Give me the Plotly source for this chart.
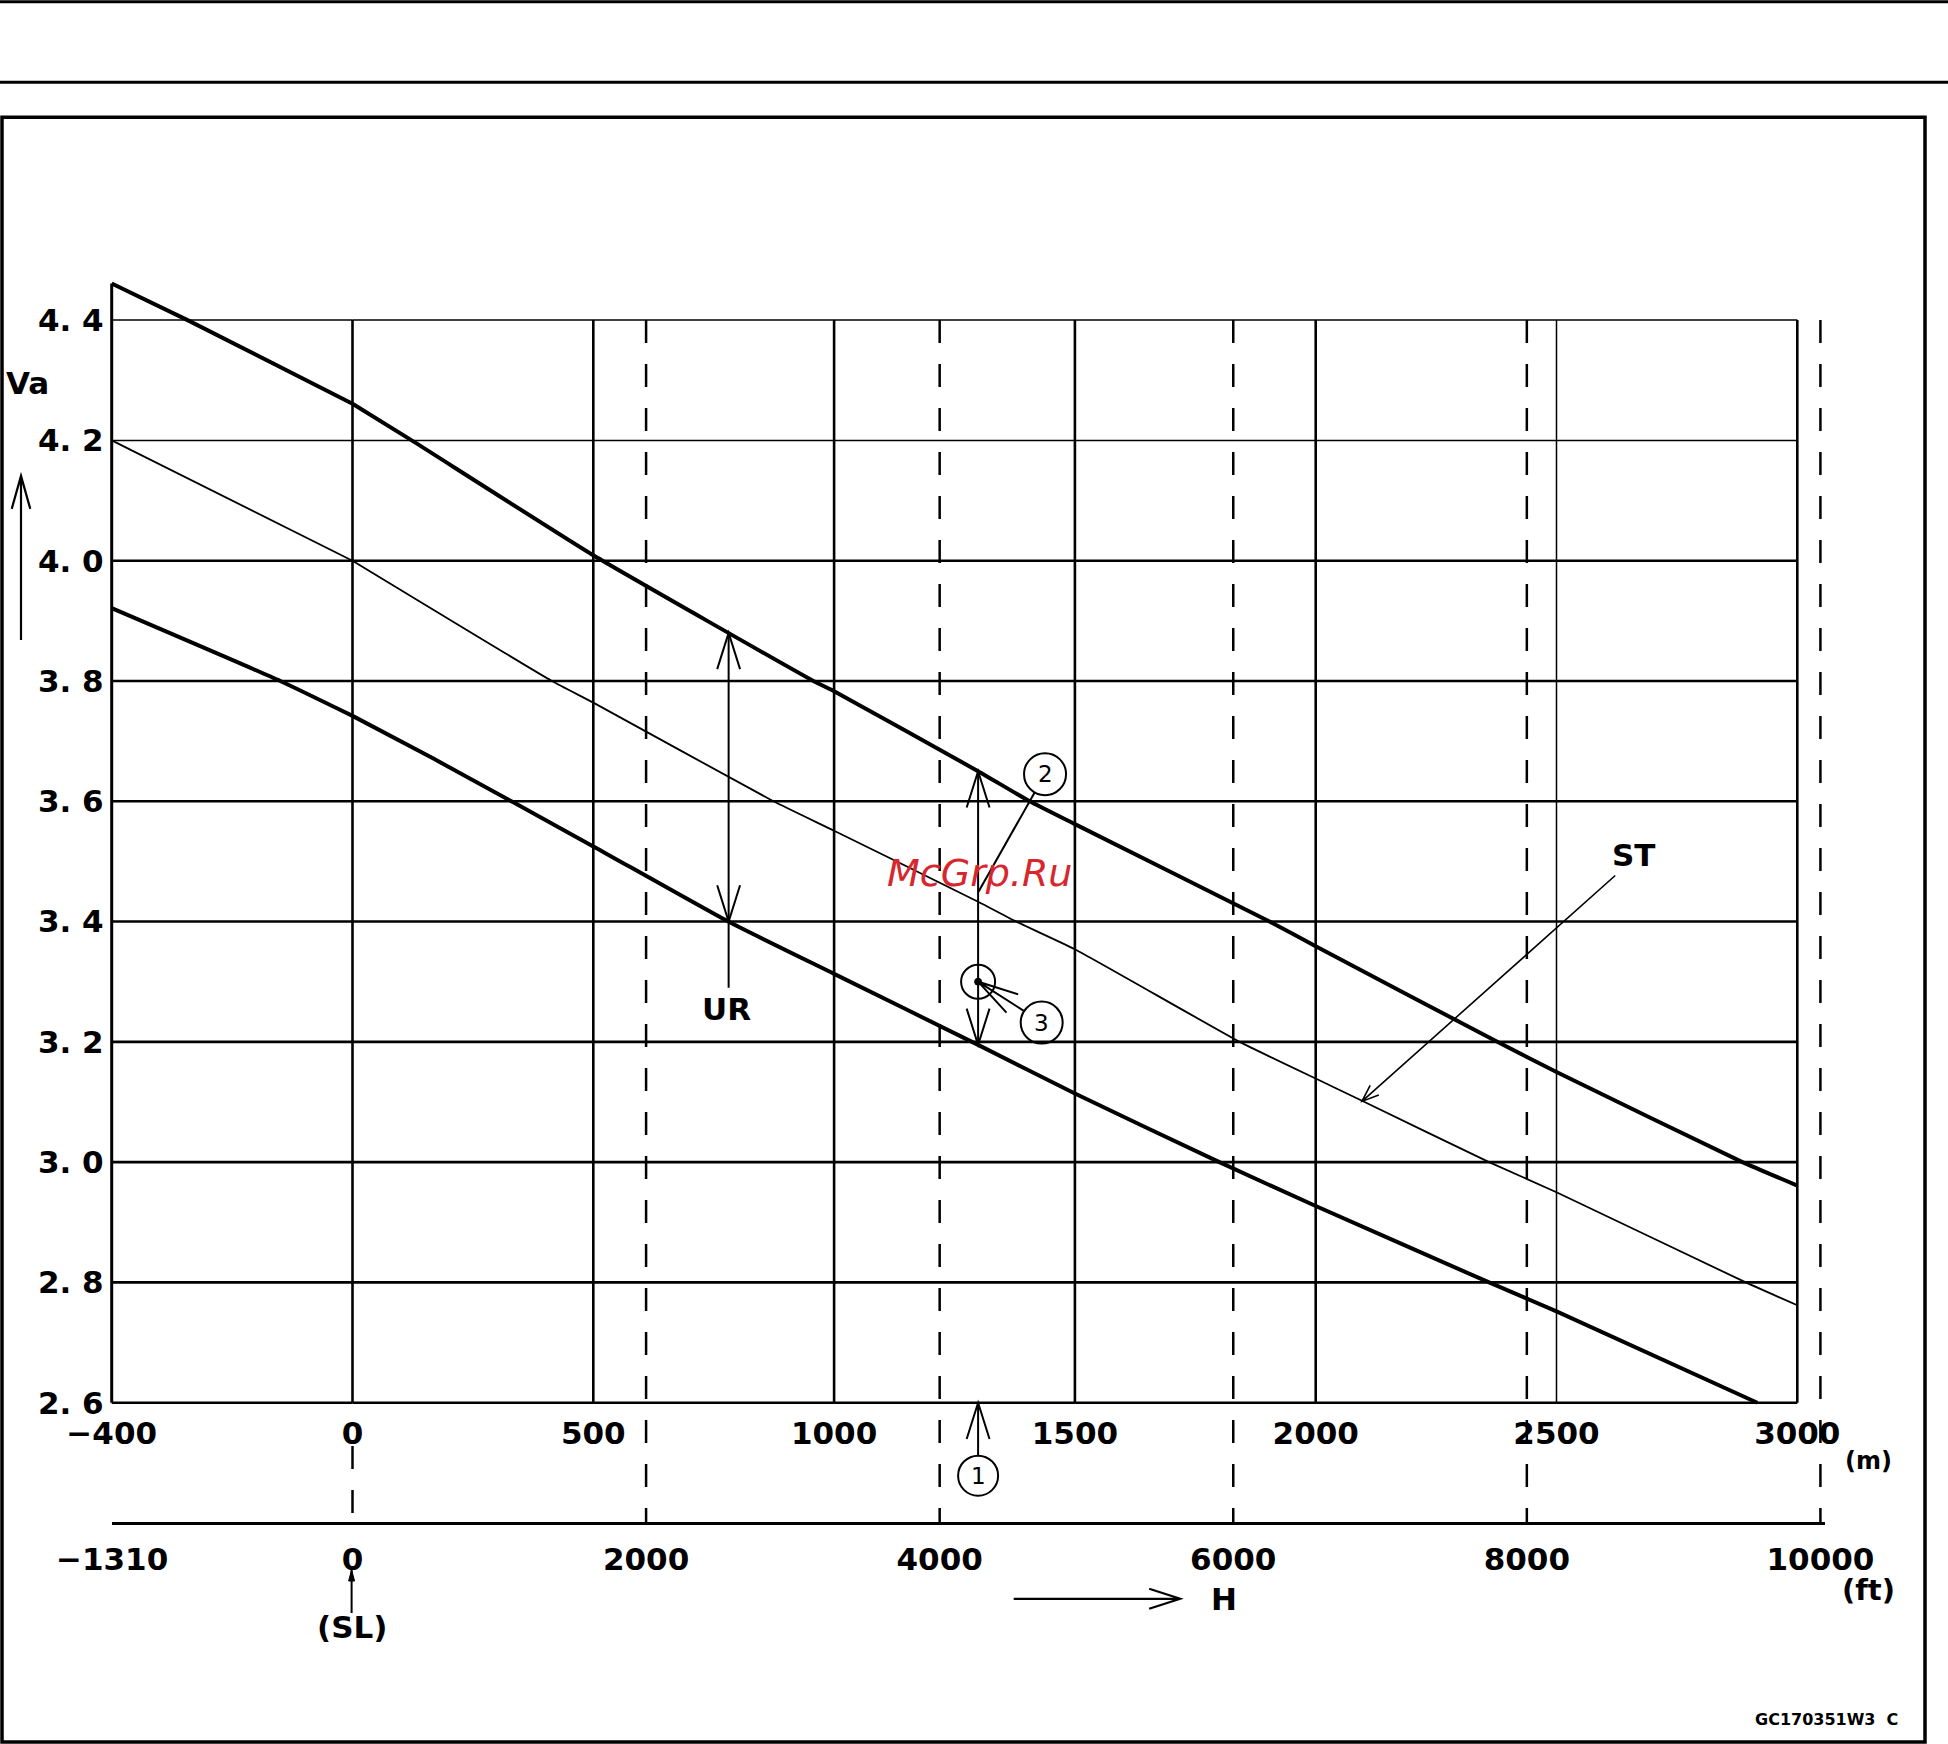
import math
import plotly.graph_objects as go

# ---------------- data ----------------
M_TICKS = [0, 500, 1000, 1500, 2000, 2500, 3000]
M_TICK_TEXT = ["0", "500", "1000", "1500", "2000", "2500", "3000"]
M_LEFT_TICK = [-400]
M_LEFT_TEXT = ["\u2212400"]
FT_TICKS = [0, 2000, 4000, 6000, 8000, 10000]
FT_TICK_TEXT = ["0", "2000", "4000", "6000", "8000", "10000"]
FT_LEFT_TICK = [-1310]
FT_LEFT_TEXT = ["\u22121310"]
VA_TICKS = [2.6, 2.8, 3.0, 3.2, 3.4, 3.6, 3.8, 4.0, 4.2, 4.4]
VA_TICK_TEXT = ["2. 6", "2. 8", "3. 0", "3. 2", "3. 4", "3. 6", "3. 8", "4. 0", "4. 2", "4. 4"]

# altitude H (m) vs. Va (V)
UPPER_H = [-400, -274, 0, 123, 500, 957, 1000, 1299, 1406, 1500, 1904, 2000, 2377, 2500, 2886, 3000]
UPPER_VA = [4.461, 4.40, 4.261, 4.20, 4.009, 3.80, 3.783, 3.650, 3.60, 3.562, 3.40, 3.359, 3.20, 3.150, 3.00, 2.961]

ST_H = [-400, 0, 414, 500, 874, 1000, 1299, 1378, 1500, 1842, 2000, 2094, 2360, 2500, 2893, 3000]
ST_VA = [4.20, 4.00, 3.80, 3.764, 3.60, 3.551, 3.433, 3.40, 3.354, 3.20, 3.139, 3.103, 3.00, 2.950, 2.80, 2.762]

LOWER_H = [-400, -120, 0, 168, 500, 780, 1000, 1299, 1500, 1800, 2000, 2360, 2500, 2917]
LOWER_VA = [3.921, 3.80, 3.742, 3.671, 3.525, 3.40, 3.313, 3.195, 3.114, 3.00, 2.927, 2.80, 2.752, 2.60]

# marked points
UR_H, UR_TOP, UR_BOT, UR_TAIL = 781, 3.880, 3.40, 3.29
P_H, P_TOP, P_BOT, P_MEAS = 1299, 3.650, 3.195, 3.30
C2_H, C2_VA = 1438, 3.645
C3_H, C3_VA = 1431, 3.232
ST_TIP_H, ST_TIP_VA = 2096, 3.101

# ---------------- geometry ----------------
W, H = 1948, 1744
FONT = "DejaVu Sans"
X0 = 352.5              # px of H = 0 m
PXM = 240.8 / 500       # px per metre right of 0
PXM_L = 240.8 / 400     # px per metre left of 0 (broken scale)
FT = 0.3048
Y44 = 320.0
PXV = 601.5             # px per volt
Y_LO, Y_HI = 2.595, 4.48
PL, PR = 100.0, 1832.0
PT = Y44 - (Y_HI - 4.4) * PXV
PB = 1523.0
PW, PH = PR - PL, PB - PT


def fx(px):
    return (px - PL) / PW


def fy(py):
    return (PB - py) / PH


def ypx(v):
    return Y44 + (4.4 - v) * PXV


fig = go.Figure()


def add_curve(xs, ys, w):
    left = [(x, y) for x, y in zip(xs, ys) if x <= 0]
    right = [(x, y) for x, y in zip(xs, ys) if x >= 0]
    for pts, xa in ((left, "x"), (right, "x2")):
        fig.add_trace(go.Scatter(x=[p[0] for p in pts], y=[p[1] for p in pts], xaxis=xa, yaxis="y",
                                 mode="lines", line=dict(color="black", width=w, shape="spline", smoothing=0.4),
                                 hoverinfo="skip", showlegend=False))


add_curve(UPPER_H, UPPER_VA, 4)
add_curve(ST_H, ST_VA, 1.8)
add_curve(LOWER_H, LOWER_VA, 4)

# invisible traces so the feet axes get drawn
fig.add_trace(go.Scatter(x=FT_LEFT_TICK, y=[3.0], xaxis="x3", yaxis="y", mode="markers",
                         marker=dict(opacity=0), hoverinfo="skip", showlegend=False))
fig.add_trace(go.Scatter(x=FT_TICKS, y=[3.0] * len(FT_TICKS), xaxis="x4", yaxis="y", mode="markers",
                         marker=dict(opacity=0), hoverinfo="skip", showlegend=False))

shapes = []


def seg(xref, yref, x0, y0, x1, y1, w=2.5, dash=None):
    ln = dict(color="black", width=w)
    if dash:
        ln["dash"] = dash
    shapes.append(dict(type="line", xref=xref, yref=yref, x0=x0, y0=y0, x1=x1, y1=y1, line=ln))


def pix_path(xref, yref, xa, ya, path, w=2, fill=None):
    d = dict(type="path", xref=xref, yref=yref, xsizemode="pixel", ysizemode="pixel",
             xanchor=xa, yanchor=ya, path=path, line=dict(color="black", width=w))
    if fill:
        d["fillcolor"] = fill
    shapes.append(d)


def pix_circle(xref, yref, xa, ya, r, w=2, fill=None, dy=0):
    d = dict(type="circle", xref=xref, yref=yref, xsizemode="pixel", ysizemode="pixel",
             xanchor=xa, yanchor=ya, x0=-r, x1=r, y0=dy - r, y1=dy + r,
             line=dict(color="black", width=w))
    if fill:
        d["fillcolor"] = fill
    shapes.append(d)


def head(angle, length=38, half=17.5):
    pts = []
    for s in (1, -1):
        a = math.radians(angle + 180 + s * half)
        pts.append((length * math.cos(a), length * math.sin(a)))
    return f" M {pts[0][0]:.2f} {pts[0][1]:.2f} L 0 0 L {pts[1][0]:.2f} {pts[1][1]:.2f}"


# grid
for v in VA_TICKS:
    w = 1.5 if v >= 4.2 else 2.6
    seg("x", "y", -400, v, 0, v, w)
    seg("x2", "y", 0, v, 3000, v, w)
seg("x", "y", -400, 2.6, -400, UPPER_VA[0], 3)
for m in M_TICKS:
    w = 1.5 if m == 2500 else 2.6
    seg("x2", "y", m, 2.6, m, 4.4, w)

# feet dashed lines
DASH = "23px,21px"
y44p = fy(ypx(4.4))
for ft in FT_TICKS[1:]:
    seg("x4", "paper", ft, y44p, ft, 0, 2.5, DASH)
seg("x4", "paper", 0, fy(1446), 0, 0, 2.5, DASH)

# UR arrow
seg("x2", "y", UR_H, UR_TAIL, UR_H, UR_TOP, 2)
pix_path("x2", "y", UR_H, UR_TOP, head(90)[1:], 2)
pix_path("x2", "y", UR_H, UR_BOT, head(-90)[1:], 2)

# point 1 double arrow
seg("x2", "y", P_H, P_BOT, P_H, P_TOP, 2)
pix_path("x2", "y", P_H, P_TOP, head(90)[1:], 2)
pix_path("x2", "y", P_H, P_BOT, head(-90)[1:], 2)
ax_p = fy(ypx(2.6))
pix_path("x2", "paper", P_H, ax_p, "M 0 0 L 0 -53" + head(90), 2)
pix_circle("x2", "paper", P_H, ax_p, 20, 2, dy=-73)

# (2)
pix_circle("x2", "y", C2_H, C2_VA, 21, 2)
pix_path("x2", "y", C2_H, C2_VA, "M -10.4 -18.3 L -66.7 -117.7", 2)

# (3)
pix_circle("x2", "y", P_H, P_MEAS, 17, 2)
pix_circle("x2", "y", P_H, P_MEAS, 3.5, 1, fill="black")
pix_path("x2", "y", P_H, P_MEAS, "M 0 0 L 45.7 -29.1" + head(147.5, 42, 15), 2)
pix_circle("x2", "y", C3_H, C3_VA, 21, 2)

# ST leader
pix_path("x2", "y", ST_TIP_H, ST_TIP_VA, "M 253.3 225.9 L 0 0" + head(221.7, 18, 21), 1.6)

# Va arrow
pix_path("paper", "paper", fx(21), fy(475.8), "M 0 0 L 0 -164" + head(90, 34.3, 15.7), 2.2)
# H arrow
pix_path("paper", "paper", fx(1180.2), fy(1598.8), "M 0 0 L -166.5 0" + head(0, 32.6, 17.9), 2.2)
# SL arrow
pix_path("paper", "paper", fx(351.6), fy(1570), "M 0 0 L 0 -43", 2)
pix_path("paper", "paper", fx(351.6), fy(1570), "M -3 -11 L 0 0 L 3 -11 Z", 1, fill="black")

# page frame and header rules
seg("paper", "paper", fx(0), fy(1.5), fx(W), fy(1.5), 3)
seg("paper", "paper", fx(0), fy(82), fx(W), fy(82), 3)
shapes.append(dict(type="rect", xref="paper", yref="paper", x0=fx(2), x1=fx(1925),
                   y0=fy(117), y1=fy(1742), line=dict(color="black", width=3.5)))

annotations = []


def text(xref, yref, x, y, s, size=31, color="black", weight="bold", style="normal"):
    annotations.append(dict(xref=xref, yref=yref, x=x, y=y, text=s, showarrow=False,
                            xanchor="center", yanchor="middle",
                            font=dict(family=FONT, size=size, color=color, weight=weight, style=style)))


text("paper", "paper", fx(27.3), fy(382.6), "Va")
text("x2", "y", 777, 3.255, "UR")
text("x2", "y", 2660, 3.511, "ST")
text("x2", "paper", P_H, fy(1475.8), "1", size=23, weight="normal")
text("x2", "y", C2_H, C2_VA, "2", size=23, weight="normal")
text("x2", "y", C3_H, C3_VA, "3", size=23, weight="normal")
text("paper", "paper", fx(1868), fy(1461), "(m)", size=24)
text("paper", "paper", fx(1868), fy(1590), "(ft)", size=29)
text("paper", "paper", fx(1223.7), fy(1598.8), "H")
text("paper", "paper", fx(351.6), fy(1627.4), "(SL)")
text("paper", "paper", fx(1826.5), fy(1720), "GC170351W3  C", size=16)
text("x2", "y", 1301, 3.48, "McGrp.Ru", size=38, color="#d7262d", weight="normal", style="italic")

axis_common = dict(showgrid=False, zeroline=False, ticks="", fixedrange=True,
                   tickfont=dict(family=FONT, size=31, color="black", weight="bold"))

fig.update_layout(
    width=W, height=H,
    margin=dict(l=PL, r=W - PR, t=PT, b=H - PB, pad=0, autoexpand=False),
    paper_bgcolor="white", plot_bgcolor="rgba(0,0,0,0)", showlegend=False,
    font=dict(family=FONT, size=31, color="black"),
    xaxis=dict(domain=[fx(X0 - 405 * PXM_L), fx(X0 + 5 * PXM_L)], range=[-405, 5], anchor="y",
               tickvals=M_LEFT_TICK, ticktext=M_LEFT_TEXT, showline=False, ticklabelstandoff=6,
               **axis_common),
    xaxis2=dict(domain=[fx(X0 - 5 * PXM), fx(X0 + 3005 * PXM)], range=[-5, 3005], anchor="y",
                tickvals=M_TICKS, ticktext=M_TICK_TEXT, showline=False, ticklabelstandoff=6,
                **axis_common),
    xaxis3=dict(domain=[fx(X0 - 400 * PXM_L), fx(X0)], range=[-400 / FT, 0], anchor="free", position=0,
                tickvals=FT_LEFT_TICK, ticktext=FT_LEFT_TEXT, showline=True, linewidth=2.6,
                linecolor="black", ticklabelstandoff=8, **axis_common),
    xaxis4=dict(domain=[fx(X0 - 30 * FT * PXM), fx(X0 + 10030 * FT * PXM)], range=[-30, 10030],
                anchor="free", position=0, tickvals=FT_TICKS, ticktext=FT_TICK_TEXT, showline=True,
                linewidth=2.6, linecolor="black", ticklabelstandoff=8, **axis_common),
    yaxis=dict(domain=[fy(ypx(Y_LO)), 1], range=[Y_LO, Y_HI], anchor="x",
               tickvals=VA_TICKS, ticktext=VA_TICK_TEXT, showline=False, ticklabelstandoff=4,
               **axis_common),
    shapes=shapes,
    annotations=annotations,
)

fig.write_html("out.html", config={"displayModeBar": False},
               post_script="document.body.style.margin='0px';document.body.style.padding='0px';"
                           "document.body.style.overflow='hidden';")
